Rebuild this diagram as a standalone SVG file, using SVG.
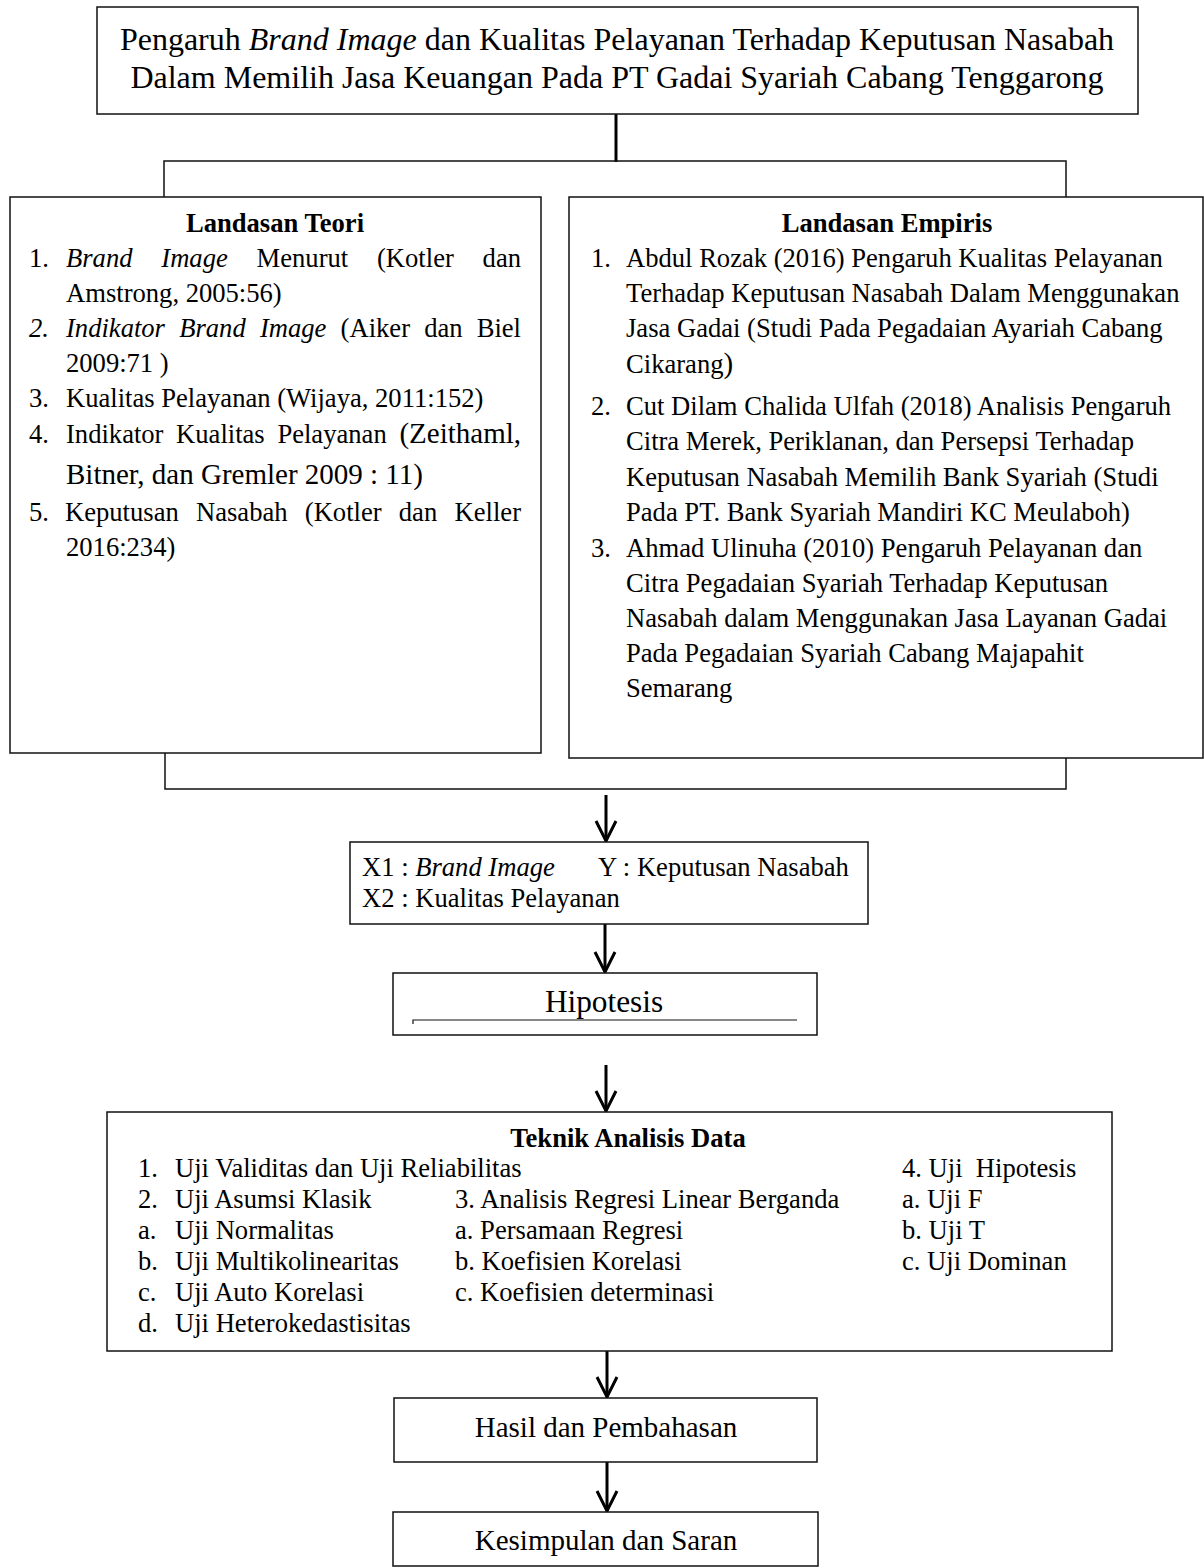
<svg xmlns="http://www.w3.org/2000/svg" width="1204" height="1567" viewBox="0 0 1204 1567">
<style>
.box{fill:#fff;stroke:#111;stroke-width:1.5}
.ln{fill:none;stroke:#111;stroke-width:1.5}
.arr{fill:none;stroke:#000;stroke-width:3}
text{font-family:"Liberation Serif","Times New Roman",serif;fill:#000}
.f14{font-size:31.3px}
.ft{font-size:32px}
.f13{font-size:29px}
.f12{font-size:26.6px}
.b{font-weight:bold}
.i{font-style:italic}
.m{text-anchor:middle}
.e{text-anchor:end}
</style>
<defs>
<marker id="ah" markerUnits="userSpaceOnUse" orient="auto" refX="0" refY="0" markerWidth="30" markerHeight="30" overflow="visible">
<path d="M-20,-10 L0,0 L-20,10" fill="none" stroke="#000" stroke-width="3"/>
</marker>
</defs>
<rect width="1204" height="1567" fill="#fff"/>

<g id="connectors">
<line class="arr" x1="616" y1="114" x2="616" y2="162"/>
<polyline class="ln" points="164,197 164,161 1066,161 1066,197"/>
<polyline class="ln" points="165,753 165,789 1066,789 1066,758"/>
<line class="arr" x1="606" y1="795" x2="606" y2="841" marker-end="url(#ah)"/>
<line class="arr" x1="605" y1="924" x2="605" y2="972" marker-end="url(#ah)"/>
<line class="arr" x1="606" y1="1065" x2="606" y2="1111" marker-end="url(#ah)"/>
<line class="arr" x1="607" y1="1351" x2="607" y2="1397" marker-end="url(#ah)"/>
<line class="arr" x1="607" y1="1462" x2="607" y2="1511" marker-end="url(#ah)"/>
</g>

<g id="title">
<rect class="box" x="97" y="7" width="1041" height="107"/>
<text class="ft m" x="617" y="50">Pengaruh <tspan class="i">Brand Image</tspan> dan Kualitas Pelayanan Terhadap Keputusan Nasabah</text>
<text class="ft m" x="617" y="88">Dalam Memilih Jasa Keuangan Pada PT Gadai Syariah Cabang Tenggarong</text>
</g>

<g id="landasan-teori">
<rect class="box" x="10" y="197" width="531" height="556"/>
<text class="f12 b m" x="275" y="232">Landasan Teori</text>
<text class="f12" x="29" y="267">1.</text>
<text class="f12 i" x="66" y="267">Brand</text>
<text class="f12 i" x="161.3" y="267">Image</text>
<text class="f12" x="256.6" y="267">Menurut</text>
<text class="f12" x="377" y="267">(Kotler</text>
<text class="f12 e" x="521" y="267">dan</text>
<text class="f12" x="66" y="302">Amstrong, 2005:56)</text>
<text class="f12 i" x="29" y="337">2.</text>
<text class="f12 i" x="66" y="337">Indikator</text>
<text class="f12 i" x="179.2" y="337">Brand</text>
<text class="f12 i" x="259.9" y="337">Image</text>
<text class="f12" x="340.6" y="337">(Aiker</text>
<text class="f12" x="424.2" y="337">dan</text>
<text class="f12 e" x="521" y="337">Biel</text>
<text class="f12" x="66" y="372">2009:71 )</text>
<text class="f12" x="29" y="407">3.</text>
<text class="f12" x="66" y="407">Kualitas Pelayanan (Wijaya, 2011:152)</text>
<text class="f12" x="29" y="443">4.</text>
<text class="f12" x="66" y="443">Indikator</text>
<text class="f12" x="176.1" y="443">Kualitas</text>
<text class="f12" x="277.4" y="443">Pelayanan</text>
<text class="f13 e" x="521" y="443">(Zeithaml,</text>
<text class="f13" x="66" y="484">Bitner, dan Gremler 2009 : 11)</text>
<text class="f12" x="29" y="521">5.</text>
<text class="f12" x="65" y="521">Keputusan</text>
<text class="f12" x="196" y="521">Nasabah</text>
<text class="f12" x="304.8" y="521">(Kotler</text>
<text class="f12" x="398.8" y="521">dan</text>
<text class="f12 e" x="521" y="521">Keller</text>
<text class="f12" x="66" y="556">2016:234)</text>
</g>

<g id="landasan-empiris">
<rect class="box" x="569" y="197" width="634" height="561"/>
<text class="f12 b m" x="887" y="232">Landasan Empiris</text>
<text class="f12" x="591" y="267">1.</text>
<text class="f12" x="626" y="267">Abdul Rozak (2016) Pengaruh Kualitas Pelayanan</text>
<text class="f12" x="626" y="302">Terhadap Keputusan Nasabah Dalam Menggunakan</text>
<text class="f12" x="626" y="337">Jasa Gadai (Studi Pada Pegadaian Ayariah Cabang</text>
<text class="f12" x="626" y="373">Cikarang<tspan class="f13">)</tspan></text>
<text class="f12" x="591" y="415">2.</text>
<text class="f12" x="626" y="415">Cut Dilam Chalida Ulfah (2018) Analisis Pengaruh</text>
<text class="f12" x="626" y="450">Citra Merek, Periklanan, dan Persepsi Terhadap</text>
<text class="f12" x="626" y="486">Keputusan Nasabah Memilih Bank Syariah (Studi</text>
<text class="f12" x="626" y="521">Pada PT. Bank Syariah Mandiri KC Meulaboh)</text>
<text class="f12" x="591" y="557">3.</text>
<text class="f12" x="626" y="557">Ahmad Ulinuha (2010) Pengaruh Pelayanan dan</text>
<text class="f12" x="626" y="592">Citra Pegadaian Syariah Terhadap Keputusan</text>
<text class="f12" x="626" y="627">Nasabah dalam Menggunakan Jasa Layanan Gadai</text>
<text class="f12" x="626" y="662">Pada Pegadaian Syariah Cabang Majapahit</text>
<text class="f12" x="626" y="697">Semarang</text>
</g>

<g id="variabel">
<rect class="box" x="350" y="842" width="518" height="82"/>
<text class="f12" x="362" y="876">X1 : <tspan class="i">Brand Image</tspan></text>
<text class="f12" x="598" y="876">Y : Keputusan Nasabah</text>
<text class="f12" x="362" y="907">X2 : Kualitas Pelayanan</text>
</g>

<g id="hipotesis">
<rect class="box" x="393" y="973" width="424" height="62"/>
<text class="f14 m" x="604" y="1012">Hipotesis</text>
<polyline class="ln" style="stroke-width:1.2" points="413,1024 413,1020 797,1020"/>
</g>

<g id="teknik">
<rect class="box" x="107" y="1112" width="1005" height="239"/>
<text class="f12 b m" x="628" y="1147">Teknik Analisis Data</text>
<text class="f12" x="138" y="1177">1.</text>
<text class="f12" x="175" y="1177">Uji Validitas dan Uji Reliabilitas</text>
<text class="f12" x="138" y="1208">2.</text>
<text class="f12" x="175" y="1208">Uji Asumsi Klasik</text>
<text class="f12" x="138" y="1239">a.</text>
<text class="f12" x="175" y="1239">Uji Normalitas</text>
<text class="f12" x="138" y="1270">b.</text>
<text class="f12" x="175" y="1270">Uji Multikolinearitas</text>
<text class="f12" x="138" y="1301">c.</text>
<text class="f12" x="175" y="1301">Uji Auto Korelasi</text>
<text class="f12" x="138" y="1332">d.</text>
<text class="f12" x="175" y="1332">Uji Heterokedastisitas</text>
<text class="f12" x="455" y="1208">3. Analisis Regresi Linear Berganda</text>
<text class="f12" x="455" y="1239">a. Persamaan Regresi</text>
<text class="f12" x="455" y="1270">b. Koefisien Korelasi</text>
<text class="f12" x="455" y="1301">c. Koefisien determinasi</text>
<text class="f12" x="902" y="1177" xml:space="preserve">4. Uji  Hipotesis</text>
<text class="f12" x="902" y="1208">a. Uji F</text>
<text class="f12" x="902" y="1239">b. Uji T</text>
<text class="f12" x="902" y="1270">c. Uji Dominan</text>
</g>

<g id="hasil">
<rect class="box" x="394" y="1398" width="423" height="64"/>
<text class="f13 m" x="606" y="1437">Hasil dan Pembahasan</text>
</g>

<g id="kesimpulan">
<rect class="box" x="393" y="1512" width="425" height="54"/>
<text class="f13 m" x="606" y="1550">Kesimpulan dan Saran</text>
</g>
</svg>
